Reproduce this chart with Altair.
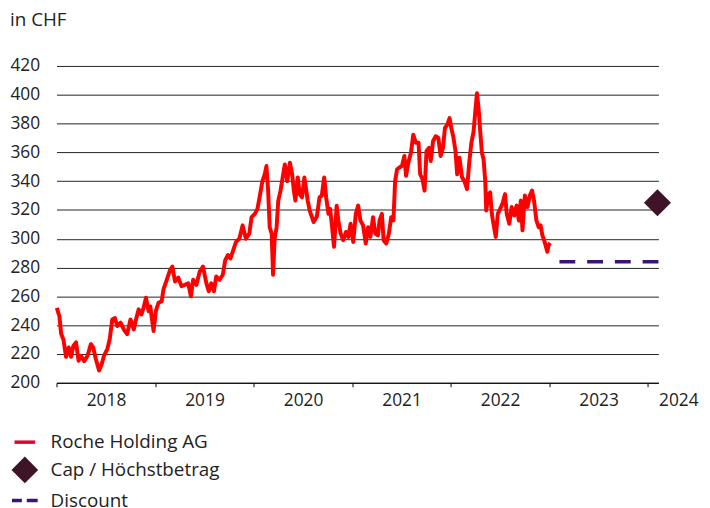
import altair as alt
import pandas as pd

# Roche Holding AG share price (CHF), time as decimal year
years = [
    2018.003, 2018.030, 2018.047, 2018.070, 2018.097, 2018.124, 2018.148, 2018.171, 2018.198, 2018.224,
    2018.248, 2018.281, 2018.315, 2018.349, 2018.372, 2018.399, 2018.432, 2018.459, 2018.482, 2018.516,
    2018.540, 2018.566, 2018.593, 2018.616, 2018.650, 2018.683, 2018.717, 2018.751, 2018.784, 2018.807,
    2018.834, 2018.861, 2018.884, 2018.908, 2018.935, 2018.952, 2018.985, 2019.008, 2019.035, 2019.068,
    2019.085, 2019.119, 2019.153, 2019.176, 2019.203, 2019.236, 2019.269, 2019.303, 2019.337, 2019.364,
    2019.387, 2019.420, 2019.454, 2019.487, 2019.521, 2019.545, 2019.571, 2019.598, 2019.621, 2019.655,
    2019.688, 2019.712, 2019.739, 2019.766, 2019.789, 2019.822, 2019.856, 2019.889, 2019.923, 2019.957,
    2019.980, 2020.013, 2020.040, 2020.067, 2020.090, 2020.114, 2020.131, 2020.148, 2020.164, 2020.184,
    2020.198, 2020.214, 2020.234, 2020.251, 2020.274, 2020.301, 2020.318, 2020.342, 2020.369, 2020.392,
    2020.409, 2020.425, 2020.449, 2020.469, 2020.492, 2020.516, 2020.550, 2020.570, 2020.610, 2020.643,
    2020.670, 2020.693, 2020.717, 2020.737, 2020.761, 2020.777, 2020.794, 2020.817, 2020.844, 2020.861,
    2020.884, 2020.911, 2020.938, 2020.962, 2020.985, 2021.012, 2021.038, 2021.062, 2021.085, 2021.112,
    2021.139, 2021.163, 2021.186, 2021.213, 2021.236, 2021.263, 2021.279, 2021.303, 2021.320, 2021.347,
    2021.374, 2021.397, 2021.420, 2021.437, 2021.457, 2021.480, 2021.507, 2021.531, 2021.548, 2021.575,
    2021.598, 2021.621, 2021.648, 2021.675, 2021.691, 2021.715, 2021.736, 2021.756, 2021.782, 2021.799,
    2021.822, 2021.849, 2021.876, 2021.899, 2021.923, 2021.943, 2021.967, 2021.990, 2022.010, 2022.027,
    2022.050, 2022.067, 2022.090, 2022.117, 2022.141, 2022.167, 2022.191, 2022.211, 2022.234, 2022.251,
    2022.268, 2022.284, 2022.301, 2022.318, 2022.335, 2022.352, 2022.362, 2022.385, 2022.402, 2022.419,
    2022.435, 2022.459, 2022.479, 2022.503, 2022.526, 2022.553, 2022.570, 2022.596, 2022.620, 2022.646,
    2022.670, 2022.693, 2022.713, 2022.730, 2022.754, 2022.781, 2022.804, 2022.827, 2022.847, 2022.871,
    2022.894, 2022.914, 2022.932, 2022.955, 2022.982, 2022.995, 2023.012,
]
prices = [
    252.0, 246.0, 234.0, 230.0, 218.0, 224.5, 218.0, 225.6, 228.0, 215.3,
    218.8, 215.0, 218.8, 226.8, 224.5, 216.5, 208.5, 213.0, 218.8, 223.4,
    230.2, 244.0, 245.0, 239.4, 241.7, 237.0, 233.7, 244.0, 237.0, 244.0,
    251.0, 247.4, 252.0, 259.0, 249.7, 253.0, 236.0, 249.7, 255.5, 256.6,
    264.6, 271.5, 278.4, 280.7, 270.3, 273.0, 267.0, 268.0, 269.0, 260.0,
    271.5, 268.0, 277.2, 280.7, 269.2, 263.5, 269.0, 263.5, 273.8, 271.5,
    275.0, 285.0, 288.7, 286.4, 291.0, 297.8, 300.0, 309.3, 300.0, 303.6,
    315.0, 317.3, 320.8, 331.0, 340.0, 344.8, 350.5, 333.4, 308.0, 303.6,
    275.0, 300.0, 308.0, 326.5, 333.4, 344.8, 351.6, 340.0, 352.8, 344.8,
    333.4, 326.5, 342.6, 331.0, 328.8, 342.6, 326.5, 319.6, 311.6, 315.5,
    328.8, 330.0, 342.6, 328.8, 317.3, 320.8, 310.4, 294.4, 323.0, 312.7,
    303.6, 299.0, 304.7, 301.3, 310.4, 297.8, 317.3, 323.0, 312.7, 309.3,
    296.7, 308.0, 301.3, 315.0, 303.6, 302.4, 312.7, 317.3, 299.0, 296.7,
    303.6, 315.0, 312.7, 340.0, 348.3, 349.5, 350.6, 357.5, 343.7, 354.0,
    359.7, 372.3, 366.6, 366.6, 344.8, 341.4, 333.4, 360.9, 363.2, 354.0,
    367.7, 371.2, 370.0, 357.5, 363.2, 376.9, 379.2, 383.8, 375.8, 371.2,
    360.9, 344.8, 356.3, 342.6, 340.0, 334.5, 354.0, 366.6, 374.6, 388.4,
    401.0, 390.7, 374.6, 359.7, 355.2, 340.0, 319.6, 331.0, 332.2, 317.3,
    310.4, 301.3, 317.3, 320.8, 324.2, 331.0, 317.3, 310.4, 322.0, 316.2,
    323.0, 312.7, 326.5, 305.9, 330.0, 322.0, 330.0, 333.4, 326.5, 312.7,
    308.0, 309.3, 302.4, 297.8, 291.0, 295.6, 297.1,
]

discount_years = [2023.105, 2024.111]
discount_levels = [284.0, 284.0]
cap_years = [2024.10]
cap_levels = [325.0]

series_names = ["Roche Holding AG", "Cap / Höchstbetrag", "Discount"]
legend_colors = ["#e4032e", "#3d1428", "#3c1478"]
legend_shapes = [
    "M-0.95,0H0.95",
    "M0,-1L1,0L0,1L-1,0Z",
    "M-1.18,0H-0.27M0.18,0H1.18",
]

year_ticks = [2018, 2019, 2020, 2021, 2022, 2023, 2024]
price_ticks = list(range(200, 421, 20))

roche_df = pd.DataFrame({"t": years, "price": prices})
discount_df = pd.DataFrame({"t": discount_years, "price": discount_levels})
cap_df = pd.DataFrame({"t": cap_years, "price": cap_levels, "series": ["Cap / Höchstbetrag"]})

FONT = "Open Sans"
TXT = "#222222"

x_enc = alt.X(
    "t:Q",
    scale=alt.Scale(domain=[2018, 2024.11], nice=False, zero=False),
    axis=alt.Axis(
        values=year_ticks, format="d", grid=False, title=None,
        domainColor="#000000", domainWidth=1, tickColor="#000000", tickSize=4,
        labelFont=FONT, labelFontSize=17.5, labelColor=TXT, labelPadding=5,
        labelFlush=False, labelOverlap=False,
        labelOffset={"condition": {"test": "datum.value >= 2024", "value": 31}, "value": 50},
    ),
)
y_enc = alt.Y(
    "price:Q",
    scale=alt.Scale(domain=[200, 420], nice=False, zero=False),
    axis=alt.Axis(
        values=price_ticks, grid=True, gridColor="#222222", gridWidth=1,
        domain=False, ticks=False, title=None,
        labelFont=FONT, labelFontSize=17.5, labelColor=TXT, labelPadding=17,
    ),
)

legend = alt.Legend(
    title=None, orient="none", legendX=-45, legendY=367, direction="vertical",
    symbolSize=484, symbolStrokeWidth=3.5, symbolOpacity=1,
    labelFont=FONT, labelFontSize=19, labelColor=TXT, labelOffset=13, labelLimit=400,
    rowPadding=0, padding=0,
)

line = alt.Chart(roche_df).mark_line(
    color="#ff0000", strokeWidth=4, strokeJoin="round"
).encode(x=x_enc, y=y_enc)

discount = alt.Chart(discount_df).mark_line(
    color="#3c1478", strokeWidth=3.5, strokeDash=[16, 12], strokeCap="butt"
).encode(x=x_enc, y=y_enc)

cap = alt.Chart(cap_df).mark_point(
    filled=True, size=500, opacity=1, strokeWidth=3.5
).encode(
    x=x_enc, y=y_enc,
    fill=alt.Fill("series:N", scale=alt.Scale(domain=series_names, range=legend_colors), legend=legend),
    stroke=alt.Stroke("series:N", scale=alt.Scale(domain=series_names, range=legend_colors), legend=legend),
    shape=alt.Shape("series:N", scale=alt.Scale(domain=series_names, range=legend_shapes), legend=legend),
)

chart = alt.layer(line, discount, cap).properties(
    width=608, height=320,
    padding={"left": 49, "top": 56, "right": 44, "bottom": 128},
    autosize=alt.AutoSizeParams(type="none"),
    title=alt.TitleParams(
        "in CHF", anchor="start", frame="group", dx=-47, offset=12, baseline="alphabetic",
        font=FONT, fontSize=19, fontWeight="normal", color="#222222",
    ),
).configure_view(stroke=None)

chart.save("out.html", embed_options={"renderer": "svg", "actions": False})
